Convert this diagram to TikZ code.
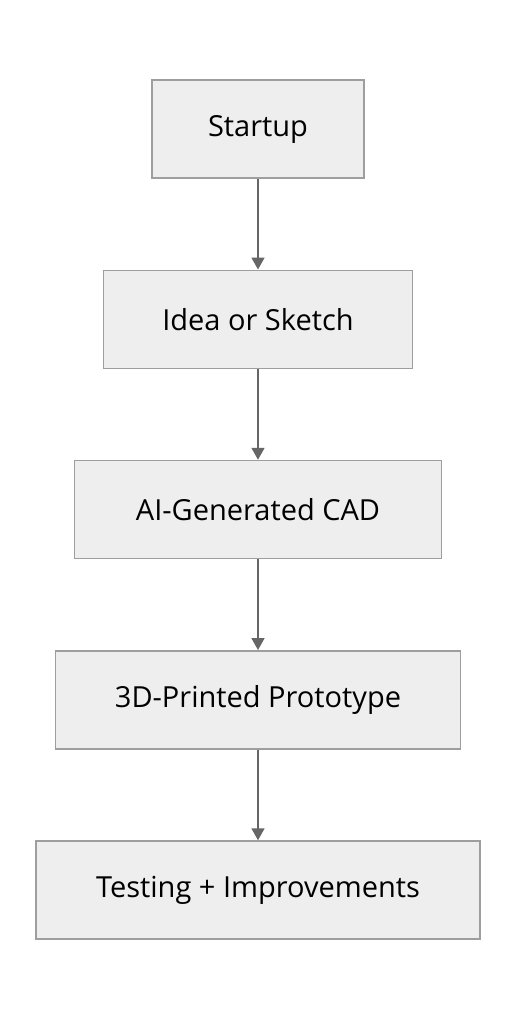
\documentclass[tikz,border=0pt]{standalone}
\usepackage{fontspec}
\setmainfont{Open Sans}
\usetikzlibrary{arrows.meta, positioning}
\definecolor{boxFill}{HTML}{EEEEEE}
\definecolor{boxLine}{HTML}{9E9E9E}
\definecolor{arrowGray}{HTML}{666666}

\begin{document}
\begin{tikzpicture}[
    node distance=90.75pt,
    box/.style={rectangle, draw=boxLine, line width=1.5pt, fill=boxFill, minimum height=98pt, inner sep=0pt, align=center, font=\fontsize{29}{34}\selectfont},
    arrow/.style={-{Triangle[length=12pt,width=13pt]}, line width=1.8pt, arrowGray}
]
\useasboundingbox (0,0) rectangle (516pt,-1020pt);

% Nodes
\node[box, minimum width=212pt] (startup) at (258pt,-129pt) {Startup};
\node[box, minimum width=309pt, below=of startup] (idea) {Idea or Sketch};
\node[box, minimum width=367pt, below=of idea] (cad) {AI-Generated CAD};
\node[box, minimum width=405pt, below=of cad] (proto) {3D-Printed Prototype};
\node[box, minimum width=444pt, below=of proto] (testing) {Testing + Improvements};

% Edges
\draw[arrow] (startup) -- (idea);
\draw[arrow] (idea) -- (cad);
\draw[arrow] (cad) -- (proto);
\draw[arrow] (proto) -- (testing);

\end{tikzpicture}
\end{document}
